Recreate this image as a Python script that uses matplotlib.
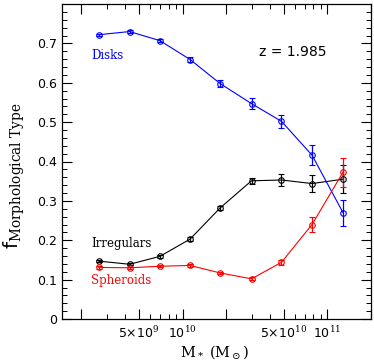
import numpy as np
import matplotlib.pyplot as plt
from matplotlib.ticker import FixedLocator, MultipleLocator, NullFormatter

plt.rcParams['mathtext.fontset'] = 'dejavuserif'

# stellar mass bins (log10 Msun)
logm = [9.421, 9.634, 9.843, 10.052, 10.259, 10.476, 10.683, 10.894, 11.108]

disks = [0.722, 0.730, 0.707, 0.659, 0.598, 0.547, 0.502, 0.416, 0.270]
disks_err = [0.003, 0.003, 0.004, 0.006, 0.008, 0.013, 0.017, 0.025, 0.033]

irregulars = [0.147, 0.139, 0.159, 0.203, 0.282, 0.351, 0.353, 0.344, 0.355]
irregulars_err = [0.003, 0.003, 0.003, 0.004, 0.005, 0.008, 0.014, 0.022, 0.036]

spheroids = [0.131, 0.130, 0.134, 0.136, 0.117, 0.102, 0.144, 0.240, 0.373]
spheroids_err = [0.003, 0.003, 0.003, 0.003, 0.003, 0.004, 0.007, 0.018, 0.037]

xt_pos = [5e9, 1e10, 5e10, 1e11]
xt_lab = [r'5$\times$10$^9$', r'10$^{10}$', r'5$\times$10$^{10}$', r'10$^{11}$']

m = 10 ** np.array(logm)

fig = plt.figure(figsize=(3.74, 3.63), dpi=100)
ax = fig.add_axes([62 / 374, 1 - 319 / 363, 309 / 374, 315 / 363])

for y, e, c in [(disks, disks_err, 'blue'),
                (irregulars, irregulars_err, 'black'),
                (spheroids, spheroids_err, 'red')]:
    ax.errorbar(m, y, yerr=e, color=c, lw=0.8, elinewidth=0.9, capsize=2,
                capthick=0.9, marker='o', ms=4, mfc='none', mew=0.8)

ax.set_xscale('log')
ax.set_xlim(1.47e9, 2e11)
ax.set_ylim(0, 0.8)

major = [2e9, 5e9, 1e10, 2e10, 5e10, 1e11, 2e11]
minor = [k * 10 ** d for d in (9, 10, 11) for k in range(2, 10)]
ax.xaxis.set_major_locator(FixedLocator(major))
ax.xaxis.set_minor_locator(FixedLocator(minor))
ax.xaxis.set_major_formatter(NullFormatter())
ax.xaxis.set_minor_formatter(NullFormatter())
for p, l in zip(xt_pos, xt_lab):
    ax.text(p, -0.02, l, ha='center', va='top', fontsize=9,
            transform=ax.get_xaxis_transform())

ax.yaxis.set_minor_locator(MultipleLocator(0.02))
ax.set_yticks([0, 0.1, 0.2, 0.3, 0.4, 0.5, 0.6, 0.7])
ax.set_yticklabels(['0', '0.1', '0.2', '0.3', '0.4', '0.5', '0.6', '0.7'], fontsize=9)

ax.tick_params(which='both', direction='in', top=True, right=True)
ax.tick_params(which='major', length=7, width=0.8)
ax.tick_params(which='minor', length=3.5, width=0.7)
for s in ax.spines.values():
    s.set_linewidth(0.9)

serif = 'DejaVu Serif'
ax.text(2.33e9, 0.670, 'Disks', color='blue', fontsize=8.5, family=serif, va='center')
ax.text(2.33e9, 0.193, 'Irregulars', color='black', fontsize=8.5, family=serif, va='center')
ax.text(2.33e9, 0.098, 'Spheroids', color='red', fontsize=8.5, family=serif, va='center')
ax.text(3.36e10, 0.678, 'z = 1.985', color='black', fontsize=10, va='center')

fig.text(14 / 374, 1 - 176 / 363, r'f$_{\rm Morphological\ Type}$', rotation=90,
         ha='center', va='center', fontsize=14)
fig.text(215 / 374, 1 - 352 / 363, r'M$_*$ (M$_\odot$)', ha='center', va='center',
         family=serif, fontsize=10.5)

fig.savefig('out.png', dpi=100)
